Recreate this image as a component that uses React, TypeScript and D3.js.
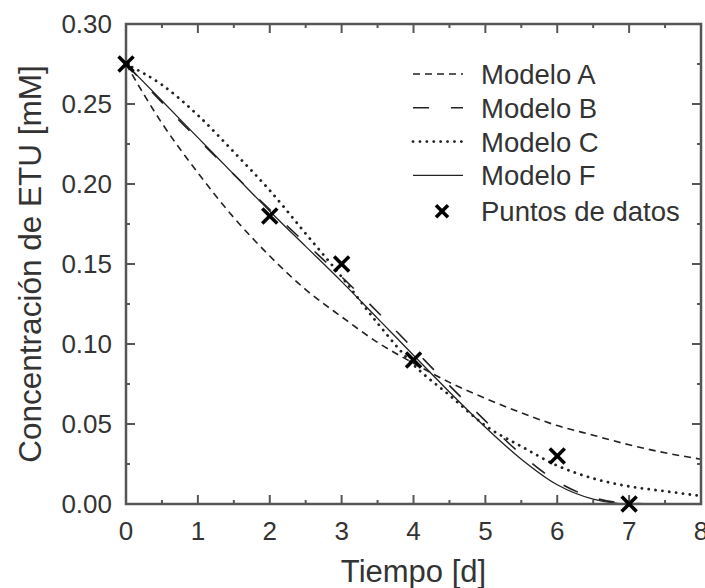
import React from "react";
import * as d3 from "d3";

const times = [0, 0.5, 1, 1.5, 2, 2.5, 3, 3.5, 4, 4.5, 5, 5.5, 6, 6.5, 7, 7.5, 8];
const modelA = [0.275, 0.238, 0.207, 0.179, 0.155, 0.134, 0.117, 0.101, 0.088, 0.076, 0.066, 0.057, 0.049, 0.043, 0.037, 0.032, 0.028];
const modelB = [0.275, 0.251, 0.228, 0.206, 0.184, 0.163, 0.142, 0.12, 0.097, 0.074, 0.052, 0.031, 0.014, 0.004, 0.0005, 0, 0];
const modelC = [0.275, 0.262, 0.243, 0.22, 0.196, 0.169, 0.142, 0.113, 0.087, 0.068, 0.049, 0.036, 0.024, 0.016, 0.011, 0.008, 0.005];
const modelF = [0.275, 0.252, 0.229, 0.206, 0.183, 0.161, 0.139, 0.116, 0.093, 0.07, 0.048, 0.028, 0.012, 0.003, 0, 0, 0];
const dataT = [0, 2, 3, 4, 6, 7];
const dataY = [0.275, 0.18, 0.15, 0.09, 0.03, 0.0];
const xTicks = [0, 1, 2, 3, 4, 5, 6, 7, 8];
const yTicks = [0, 0.05, 0.1, 0.15, 0.2, 0.25, 0.3];
const legendLabels = ["Modelo A", "Modelo B", "Modelo C", "Modelo F", "Puntos de datos"];

const W = 705, H = 588;
const L = 126, R = 701, T = 24, B = 504;
const FONT = "'Liberation Sans', Arial, Helvetica, sans-serif";

export default function App() {
  const x = d3.scaleLinear().domain([0, 8]).range([L, R]);
  const y = d3.scaleLinear().domain([0, 0.3]).range([B, T]);
  const line = (vals: number[]) =>
    d3.line<number>().x((_, i) => x(times[i])).y((v) => y(v)).curve(d3.curveMonotoneX)(vals) || "";

  const styles = [
    { vals: modelA, dash: "7,5", w: 1.6, cap: "butt" },
    { vals: modelB, dash: "16,22", w: 1.6, cap: "butt" },
    { vals: modelC, dash: "0.1,6.8", w: 2.8, cap: "round" },
    { vals: modelF, dash: "none", w: 1.3, cap: "butt" },
  ];

  const xMinor = d3.range(0.5, 8, 1);
  const yMinor = d3.range(0.025, 0.3, 0.05);
  const axisColor = "#555";
  const lx0 = 413, lx1 = 463, ltx = 481, ly0 = 74, ldy = 33.8;

  const cross = (cx: number, cy: number, s: number, key: string | number) => (
    <g key={key} stroke="#000" strokeWidth={3.6}>
      <line x1={cx - s} y1={cy - s} x2={cx + s} y2={cy + s} />
      <line x1={cx - s} y1={cy + s} x2={cx + s} y2={cy - s} />
    </g>
  );

  return (
    <svg width={W} height={H} style={{ position: "absolute", left: 0, top: 0, background: "#fff" }} fontFamily={FONT}>
      <rect x={0} y={0} width={W} height={H} fill="#fff" />
      <defs>
        <clipPath id="plotclip">
          <rect x={L} y={T - 10} width={R - L} height={B - T + 10} />
        </clipPath>
      </defs>
      {styles.map((s, i) => (
        <path key={i} d={line(s.vals)} fill="none" stroke="#222" strokeWidth={s.w}
          strokeDasharray={s.dash} strokeLinecap={s.cap as any} clipPath="url(#plotclip)" />
      ))}
      <rect x={L} y={T} width={R - L} height={B - T} fill="none" stroke={axisColor} strokeWidth={2.5} />
      {xTicks.map((t) => (
        <g key={"xt" + t} stroke={axisColor} strokeWidth={2}>
          <line x1={x(t)} x2={x(t)} y1={B} y2={B - 9} />
          <line x1={x(t)} x2={x(t)} y1={T} y2={T + 9} />
        </g>
      ))}
      {xMinor.map((t) => (
        <g key={"xm" + t} stroke={axisColor} strokeWidth={2}>
          <line x1={x(t)} x2={x(t)} y1={B} y2={B - 4} />
          <line x1={x(t)} x2={x(t)} y1={T} y2={T + 4} />
        </g>
      ))}
      {yTicks.map((t) => (
        <g key={"yt" + t} stroke={axisColor} strokeWidth={2}>
          <line x1={L} x2={L + 9} y1={y(t)} y2={y(t)} />
          <line x1={R} x2={R - 9} y1={y(t)} y2={y(t)} />
        </g>
      ))}
      {yMinor.map((t) => (
        <g key={"ym" + t} stroke={axisColor} strokeWidth={2}>
          <line x1={L} x2={L + 4} y1={y(t)} y2={y(t)} />
          <line x1={R} x2={R - 4} y1={y(t)} y2={y(t)} />
        </g>
      ))}
      {xTicks.map((t) => (
        <text key={"xl" + t} x={x(t)} y={540} textAnchor="middle" fontSize={26} fill="#333">{t}</text>
      ))}
      {yTicks.map((t) => (
        <text key={"yl" + t} x={112} y={y(t) + 9} textAnchor="end" fontSize={26} fill="#333">{d3.format(".2f")(t)}</text>
      ))}
      <text x={(L + R) / 2} y={582} textAnchor="middle" fontSize={31} fill="#333">Tiempo [d]</text>
      <text transform={`translate(41,${(T + B) / 2}) rotate(-90)`} textAnchor="middle" fontSize={31.5} fill="#333">Concentración de ETU [mM]</text>
      {dataT.map((t, i) => cross(x(t), y(dataY[i]), 7.5, "p" + i))}
      {styles.map((s, i) => (
        <line key={"ll" + i} x1={lx0} x2={lx1} y1={ly0 + i * ldy} y2={ly0 + i * ldy} stroke="#222"
          strokeWidth={s.w} strokeDasharray={s.dash} strokeLinecap={s.cap as any} />
      ))}
      {cross((lx0 + lx1) / 2 + 4, ly0 + 4 * ldy + 2, 6, "lc")}
      {legendLabels.map((lab, i) => (
        <text key={"lt" + i} x={ltx} y={ly0 + i * ldy + (i === 4 ? 2 : 0) + 10} fontSize={27.5} fill="#333">{lab}</text>
      ))}
    </svg>
  );
}
